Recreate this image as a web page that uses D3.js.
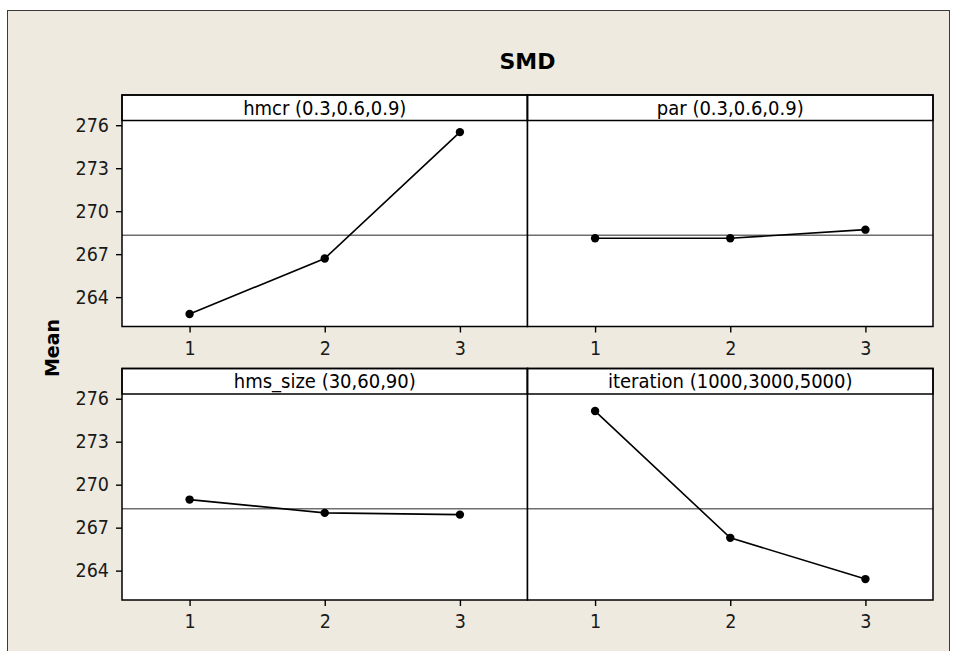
<!DOCTYPE html>
<html>
<head>
<meta charset="utf-8">
<script src="https://cdn.jsdelivr.net/npm/d3@7"></script>
<style>
  html, body { margin: 0; padding: 0; background: #ffffff; }
  svg { display: block; }
</style>
</head>
<body>
<svg id="chart" width="966" height="651"></svg>
<script>
// Main effects plot for SMD: mean response at each factor level
const chartTitle = "SMD";
const yLabel = "Mean";
const factors = ["hmcr (0.3,0.6,0.9)", "par (0.3,0.6,0.9)", "hms_size (30,60,90)", "iteration (1000,3000,5000)"];
const levels = [1, 2, 3];
const hmcrMeans = [262.82, 266.70, 275.52];
const parMeans = [268.11, 268.11, 268.71];
const hmsSizeMeans = [268.96, 268.03, 267.91];
const iterationMeans = [275.14, 266.29, 263.41];
const grandMean = 268.32;
const yTicks = [264, 267, 270, 273, 276];
const yDomain = [261.95, 276.33];
const xDomain = [0.5, 3.5];

const seriesMeans = [hmcrMeans, parMeans, hmsSizeMeans, iterationMeans];

const svg = d3.select("#chart");
const tickFont = "'DejaVu Sans Condensed', 'DejaVu Sans', sans-serif";

// Layout
const colLeft = [122, 527.5];
const colWidth = 405.5;
const rowTop = [95, 368.5];
const panelH = 231.5;
const headerH = 25.5;

// Outer frame
svg.append("rect")
  .attr("x", 7.5).attr("y", 10.5)
  .attr("width", 942).attr("height", 660)
  .attr("fill", "#eeeae0")
  .attr("stroke", "#3a3a3a")
  .attr("stroke-width", 1);

// Title
svg.append("text")
  .attr("x", colLeft[0] + colWidth)
  .attr("y", 69)
  .attr("text-anchor", "middle")
  .attr("font-family", "'DejaVu Sans', sans-serif")
  .attr("font-weight", "bold")
  .attr("font-size", 22)
  .attr("fill", "#000")
  .text(chartTitle);

// Y axis title
svg.append("text")
  .attr("transform", "translate(59,348) rotate(-90)")
  .attr("text-anchor", "middle")
  .attr("font-family", "'DejaVu Sans', sans-serif")
  .attr("font-weight", "bold")
  .attr("font-size", 19)
  .attr("fill", "#000")
  .text(yLabel);

factors.forEach((name, i) => {
  const col = i % 2, row = Math.floor(i / 2);
  const x0 = colLeft[col], y0 = rowTop[row];
  const plotTop = y0 + headerH, plotBottom = y0 + panelH;

  const x = d3.scaleLinear().domain(xDomain).range([x0, x0 + colWidth]);
  const y = d3.scaleLinear().domain(yDomain).range([plotBottom, plotTop]);

  const g = svg.append("g");

  // Panel background
  g.append("rect")
    .attr("x", x0).attr("y", y0)
    .attr("width", colWidth).attr("height", panelH)
    .attr("fill", "#ffffff");

  // Grand mean reference line
  g.append("line")
    .attr("x1", x0).attr("x2", x0 + colWidth)
    .attr("y1", y(grandMean)).attr("y2", y(grandMean))
    .attr("stroke", "#6e6e6e")
    .attr("stroke-width", 1.5);

  // Connecting line through level means
  const pts = levels.map((lv, k) => ({ lv, v: seriesMeans[i][k] }));
  g.append("path")
    .datum(pts)
    .attr("fill", "none")
    .attr("stroke", "#000")
    .attr("stroke-width", 1.6)
    .attr("d", d3.line().x(d => x(d.lv)).y(d => y(d.v)));

  g.selectAll("circle")
    .data(pts)
    .join("circle")
    .attr("cx", d => x(d.lv))
    .attr("cy", d => y(d.v))
    .attr("r", 4.2)
    .attr("fill", "#000");

  // Header strip
  g.append("rect")
    .attr("x", x0).attr("y", y0)
    .attr("width", colWidth).attr("height", headerH)
    .attr("fill", "#ffffff")
    .attr("stroke", "#000")
    .attr("stroke-width", 1.5);

  g.append("text")
    .attr("x", x0 + colWidth / 2)
    .attr("y", y0 + headerH / 2)
    .attr("dy", "0.36em")
    .attr("text-anchor", "middle")
    .attr("font-family", tickFont)
    .attr("font-size", 20)
    .attr("fill", "#000")
    .text(name);

  // Panel border
  g.append("rect")
    .attr("x", x0).attr("y", y0)
    .attr("width", colWidth).attr("height", panelH)
    .attr("fill", "none")
    .attr("stroke", "#000")
    .attr("stroke-width", 1.5);

  // X axis
  const xAxis = g.append("g")
    .attr("transform", `translate(0,${plotBottom})`)
    .call(d3.axisBottom(x).tickValues(levels).tickFormat(d3.format("d")).tickSize(6).tickPadding(8.5));
  xAxis.select(".domain").remove();
  xAxis.selectAll(".tick line").attr("stroke", "#000").attr("stroke-width", 1.4);
  xAxis.selectAll(".tick text")
    .attr("font-family", tickFont).attr("font-size", 19.5).attr("fill", "#1a1a1a");

  // Y axis on the left column only
  if (col === 0) {
    const yAxis = g.append("g")
      .attr("transform", `translate(${x0},0)`)
      .call(d3.axisLeft(y).tickValues(yTicks).tickFormat(d3.format("d")).tickSize(6).tickPadding(7));
    yAxis.select(".domain").remove();
    yAxis.selectAll(".tick line").attr("stroke", "#000").attr("stroke-width", 1.4);
    yAxis.selectAll(".tick text")
      .attr("font-family", tickFont).attr("font-size", 19.5).attr("fill", "#1a1a1a");
  }
});
</script>
</body>
</html>
